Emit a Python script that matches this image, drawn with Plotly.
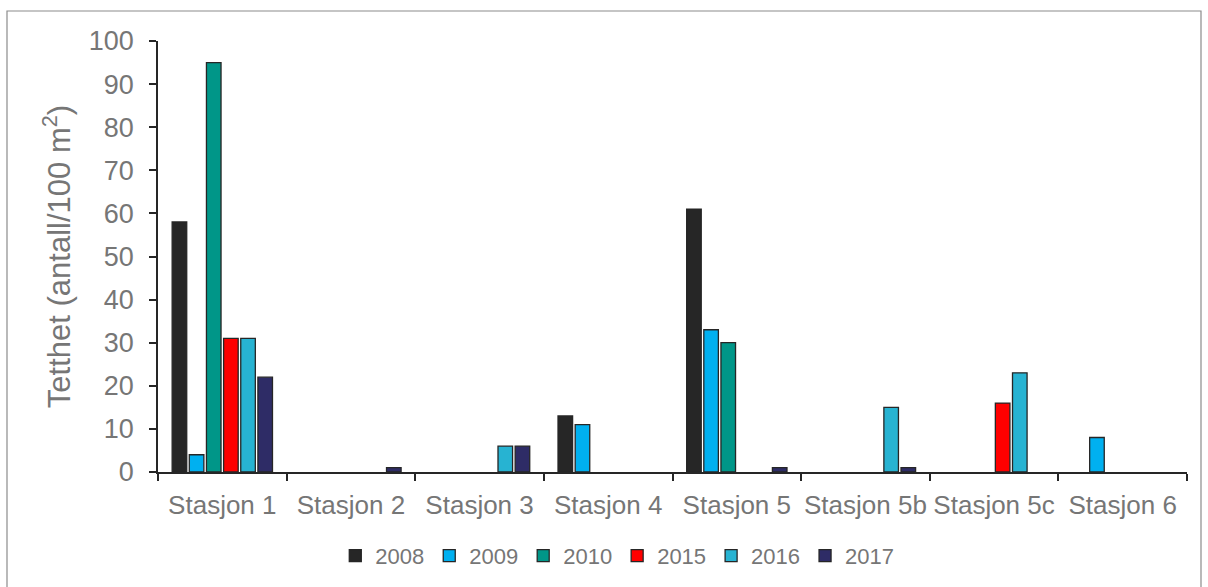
import plotly.graph_objects as go

categories = ["Stasjon 1", "Stasjon 2", "Stasjon 3", "Stasjon 4", "Stasjon 5", "Stasjon 5b", "Stasjon 5c", "Stasjon 6"]
v2008 = [58, None, None, 13, 61, None, None, None]
v2009 = [4, None, None, 11, 33, None, None, 8]
v2010 = [95, None, None, None, 30, None, None, None]
v2015 = [31, None, None, None, None, None, 16, None]
v2016 = [31, None, 6, None, None, 15, 23, None]
v2017 = [22, 1, 6, None, 1, 1, None, None]

series = [
    ("2008", v2008, "#262626"),
    ("2009", v2009, "#00B0F0"),
    ("2010", v2010, "#009688"),
    ("2015", v2015, "#FF0000"),
    ("2016", v2016, "#27B3D2"),
    ("2017", v2017, "#2E2C66"),
]

fig = go.Figure()
for name, vals, col in series:
    fig.add_trace(go.Bar(x=categories, y=vals, name=name,
                         marker=dict(color=col, line=dict(color="#262626", width=1.3))))

font_family = "Liberation Sans, Arial, sans-serif"
gray = "#767676"

fig.update_layout(
    width=1208, height=587,
    margin=dict(l=158, r=21, t=41, b=115),
    paper_bgcolor="white", plot_bgcolor="white",
    barmode="group", bargap=0.2, bargroupgap=0.15,
    font=dict(family=font_family, color=gray),
    showlegend=True,
    legend=dict(orientation="h", xref="container", yref="container",
                x=0.511, xanchor="center", y=0.053, yanchor="middle",
                font=dict(size=22, color=gray), itemwidth=30,
                tracegroupgap=0, traceorder="normal"),
    xaxis=dict(showline=True, linecolor="#262626", linewidth=1.5,
               ticks="outside", ticklen=7, tickcolor="#262626", tickwidth=1.5,
               tickson="boundaries", tickfont=dict(size=26, color=gray),
               tickangle=0, automargin=False,
               ticklabelstandoff=9, showgrid=False),
    yaxis=dict(range=[0, 100], dtick=10, showline=True, linecolor="#262626", linewidth=1.5,
               ticks="outside", ticklen=7, tickcolor="#262626", tickwidth=1.5,
               tickfont=dict(size=27, color=gray), showgrid=False, zeroline=False,
               ticklabelstandoff=10, automargin=False,
               title=dict(text="Tetthet (antall/100 m<sup>2</sup>)", font=dict(size=31, color=gray), standoff=9)),
)
fig.add_shape(type="rect", xref="x domain", yref="y domain",
              x0=-151/1029, x1=(1201-158)/1029, y0=-(600-472)/431, y1=(472-11)/431,
              line=dict(color="#8c8c8c", width=1.2), fillcolor="rgba(0,0,0,0)", layer="below")

fig.write_html("out.html")
